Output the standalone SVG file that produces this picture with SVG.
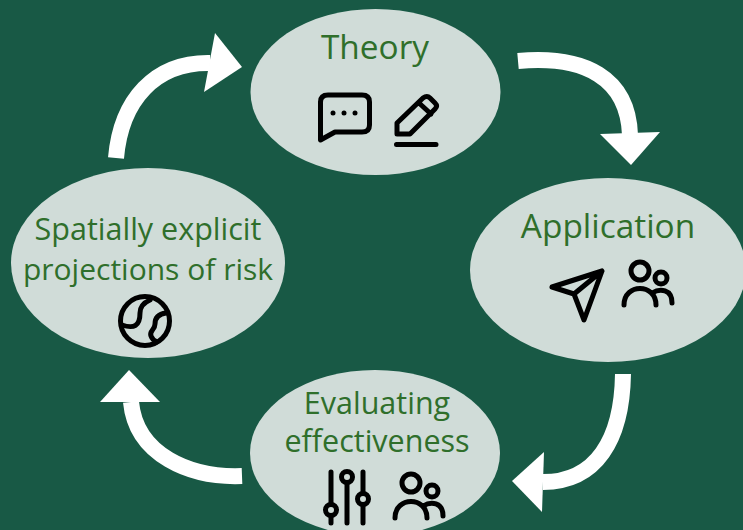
<svg xmlns="http://www.w3.org/2000/svg" width="743" height="530" viewBox="0 0 743 530">
<style>
.n{fill:#d0dcd8}
.t{font-family:"Open Sans","Noto Sans",sans-serif;font-size:30.500px;fill:#2f6f2b;text-anchor:middle}
.b{font-size:33.400px}
.i{fill:none;stroke:#000;stroke-width:5;stroke-linecap:round;stroke-linejoin:round}
.a{fill:none;stroke:#fff;stroke-width:16}
.h{fill:#fff}
</style>
<rect width="743" height="530" fill="#185945"/>
<g id="connectors">
<path class="a" d="M518 61C585 55 628 78 630 135"/><polygon class="h" points="600,134 660,132 631,165"/>
<path class="a" d="M623 374C622 440 596 482 543 482"/><polygon class="h" points="544,452 512,481 542,512"/>
<path class="a" d="M242 476C190 478 136 455 131 402"/><polygon class="h" points="100,402 160,402 129,370"/>
<path class="a" d="M116 158C121 100 155 62 210 63"/><polygon class="h" points="215,33 242,67 204,92"/>
</g>
<g id="theory"><ellipse class="n" cx="375.500" cy="92" rx="125" ry="83"/><text class="t b" x="375" y="58.500">Theory</text>
<path class="i" d="M320.500 140V102Q320.500 95 328 95H362Q369.500 95 369.500 102V125Q369.500 132 362 132H335Z"/>
<circle cx="333" cy="113" r="2.500"/><circle cx="344" cy="113" r="2.500"/><circle cx="355" cy="113" r="2.500"/>
<path class="i" d="M397 134V123L423 98Q427 95 430 98L435 103Q438 106 435 109L410 134ZM419 103L431 114M396.500 144.500H436"/></g>
<g id="application"><ellipse class="n" cx="608" cy="270" rx="138" ry="92"/><text class="t b" x="608" y="237.500">Application</text>
<path class="i" d="M552 287L602 271L584 320L574 294ZM574 294L602 271"/>
<circle class="i" cx="640" cy="271" r="9"/><circle class="i" cx="661" cy="278" r="6"/>
<path class="i" d="M624 305C624 283 656 283 656 305M652 293C660 288 672 289 672 303"/></g>
<g id="evaluating"><ellipse class="n" cx="375" cy="453" rx="125" ry="83"/><text class="t" x="377" y="413.500">Evaluating</text><text class="t" x="377" y="451.500">effectiveness</text>
<path class="i" d="M331 472V504M331 516V523M347 483V523M363 472V493M363 505V523"/>
<circle class="i" cx="331" cy="510" r="5.500"/><circle class="i" cx="347" cy="477" r="5.500"/><circle class="i" cx="363" cy="499" r="5.500"/>
<circle class="i" cx="411" cy="483" r="9"/><circle class="i" cx="432" cy="491" r="6"/>
<path class="i" d="M395 518C395 496 427 496 427 518M423 506C431 501 443 502 443 516"/></g>
<g id="spatial"><ellipse class="n" cx="148" cy="263" rx="137" ry="95"/><text class="t" x="148" y="240">Spatially explicit</text><text class="t" x="148" y="279.500" style="font-size:30px">projections of risk</text>
<circle class="i" cx="145" cy="321" r="24.500"/>
<path class="i" d="M150 300C143 303 140 307 140 313C140 326 134 329 122 325M166 313C158 314 155 318 155 324C155 330 149 331 151 336C152 339 155 341 157 342"/></g>
</svg>
